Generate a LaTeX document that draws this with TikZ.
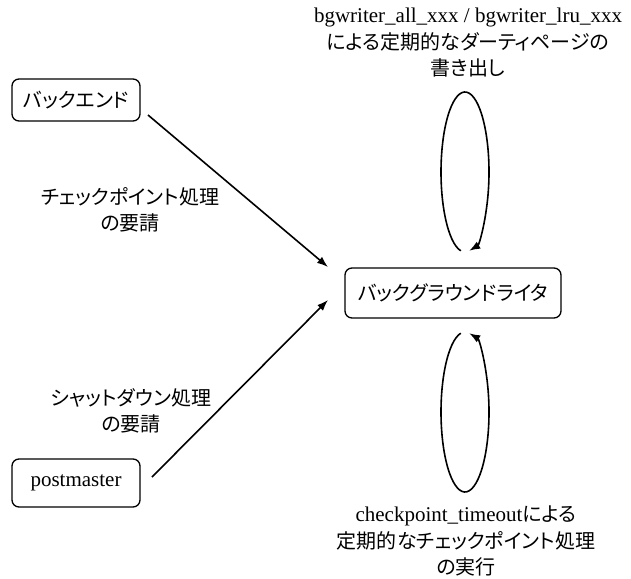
\documentclass[tikz,border=0pt]{standalone}
\usepackage{fontspec}
\setmainfont{Liberation Serif}
\newfontfamily\jp[RawFeature=+palt]{Noto Sans CJK JP}
\newcommand{\lat}{\fontsize{21}{26.5}\selectfont}
\usetikzlibrary{arrows.meta}
\begin{document}
\begin{tikzpicture}[x=1pt,y=-1pt,
  txt/.style={font=\fontsize{20}{26.5}\selectfont, align=center, inner sep=0pt},
  boxnode/.style={draw, line width=1.3pt, rounded corners=7pt, inner sep=0pt,
    font=\fontsize{20}{26}\selectfont},
  conn/.style={line width=1.6pt, -{Latex[length=11pt,width=8pt]}}
]
\useasboundingbox (0,0) rectangle (631,578);
% boxes
\node[boxnode, minimum width=128pt, minimum height=42pt] (be) at (76,100) {\jp バックエンド};
\node[boxnode, minimum width=216pt, minimum height=50pt] (bw) at (453,293) {\jp バックグラウンドライタ};
\node[boxnode, minimum width=128pt, minimum height=48pt] (pm) at (76,483) {\lat postmaster};
% labels
\node[txt] (lt) at (468,43) {\lat bgwriter\_all\_xxx / bgwriter\_lru\_xxx\\ \jp による定期的なダーティページの\\ \jp 書き出し};
\node[txt] (l1) at (130,210) {\jp チェックポイント処理\\ \jp の要請};
\node[txt] (l2) at (131,411) {\jp シャットダウン処理\\ \jp の要請};
\node[txt] (lb) at (466,541) {{\lat checkpoint\_timeout}{\jp による}\\ \jp 定期的なチェックポイント処理\\ \jp の実行};
% connector ends
\coordinate (s1) at (148,115);
\coordinate (e1) at (328,267);
\coordinate (s2) at (152,477);
\coordinate (e2) at (328,300);
\draw[conn] (s1) -- (e1);
\draw[conn] (s2) -- (e2);
% loops
\coordinate (tc) at (465,172);
\coordinate (bc) at (465,412);
\draw[conn] ([shift={(-100:24pt and 80pt)}]tc) arc[start angle=-100, end angle=-440, x radius=24pt, y radius=80pt];
\draw[conn] ([shift={(100:24pt and 80pt)}]bc) arc[start angle=100, end angle=440, x radius=24pt, y radius=80pt];
\end{tikzpicture}
\end{document}
